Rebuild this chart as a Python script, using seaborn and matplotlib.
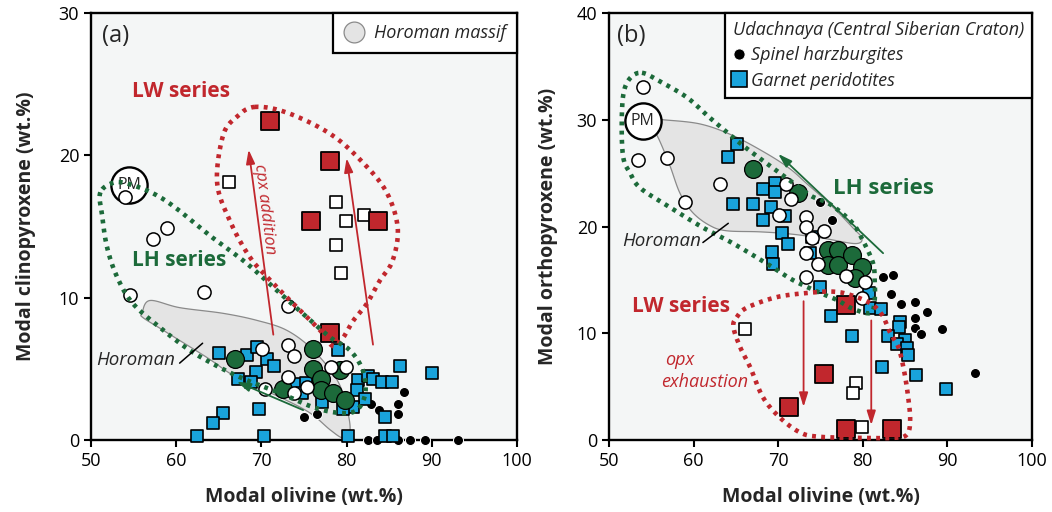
import numpy as np
import pandas as pd
import matplotlib
matplotlib.use("Agg")
import matplotlib.pyplot as plt
import seaborn as sns
from matplotlib.lines import Line2D
from matplotlib.font_manager import FontProperties

# ---------------------------------------------------------------- colours
BLUE = "#19a3db"
RED = "#c1272d"
GREEN = "#1c6a3a"
GREY_FILL = "#e4e4e4"
GREY_EDGE = "#8a8a8a"
PANEL_BG = "#f4f6f6"

# ============================================================ panel (a) data
# Modal olivine (x) vs modal clinopyroxene (y), wt.%
a_spinel_x = [75.0, 76.5, 82.9, 83.8, 86.0, 86.0, 86.7, 82.5, 83.6, 86.0, 87.4, 89.2, 93.1]
a_spinel_y = [1.6, 1.8, 2.5, 2.1, 2.5, 1.8, 3.4, 0.0, 0.0, 0.0, 0.0, 0.0, 0.0]

a_garnet_x = [65.0, 68.3, 69.5, 70.7, 71.5, 69.4, 67.3, 68.8, 69.7, 65.5, 64.3, 62.4, 70.3,
              74.1, 75.2, 74.8, 79.0, 86.3, 90.0, 81.3, 82.5, 83.1, 84.2, 85.3, 81.2, 82.2,
              80.8, 79.6, 77.1, 84.5, 84.5, 85.4, 80.2]
a_garnet_y = [6.1, 6.0, 6.5, 5.7, 5.2, 4.8, 4.3, 4.1, 2.2, 1.9, 1.2, 0.3, 0.3,
              3.9, 4.0, 3.3, 6.3, 5.2, 4.7, 4.2, 4.5, 4.3, 4.1, 4.1, 3.5, 2.9,
              2.3, 2.2, 2.7, 1.6, 0.3, 0.3, 0.3]

a_lh_filled_x = [66.9, 76.1, 76.1, 77.0, 72.5, 77.0, 78.4, 79.8, 79.2]
a_lh_filled_y = [5.7, 6.4, 5.0, 4.3, 3.6, 3.5, 3.3, 2.8, 4.9]

a_lh_open_x = [54.0, 57.3, 58.9, 54.6, 63.3, 73.1, 73.1, 73.8, 70.1, 73.1, 70.4, 73.8, 75.4, 78.2, 79.9]
a_lh_open_y = [17.1, 14.1, 14.9, 10.2, 10.4, 9.4, 6.7, 5.9, 6.4, 4.4, 3.6, 3.3, 3.7, 5.1, 5.1]

a_lw_open_x = [66.2, 78.8, 79.9, 82.0, 78.8, 79.3]
a_lw_open_y = [18.1, 16.7, 15.4, 15.8, 13.7, 11.7]

a_lw_filled_x = [71.0, 78.1, 75.8, 83.7, 78.1]
a_lw_filled_y = [22.4, 19.6, 15.4, 15.4, 7.5]

a_pm = (54.5, 17.9)

# Horoman massif field
a_horoman_x = [56.0, 56.9, 60.4, 65.5, 69.5, 73.0, 76.1, 78.9, 80.0, 80.4, 79.6, 78.1,
               75.7, 72.2, 67.1, 63.6, 58.5, 56.1]
a_horoman_y = [8.9, 9.8, 9.3, 8.9, 8.4, 7.7, 6.3, 4.2, 2.3, 0.7, 0.15, 0.7,
               1.9, 3.0, 4.4, 5.8, 7.7, 8.6]

# LW series envelope
a_lw_env_x = [69.2, 73.0, 78.1, 81.9, 84.7, 86.0, 85.4, 83.9, 82.4, 80.8, 79.6, 78.4,
              76.9, 74.2, 71.4, 68.7, 66.3, 64.8, 65.5, 67.1]
a_lw_env_y = [23.4, 23.0, 21.5, 19.5, 17.4, 14.9, 12.6, 11.2, 9.6, 8.4, 7.2, 6.6,
              7.7, 9.3, 11.0, 12.8, 15.4, 18.1, 21.4, 22.7]

# LH series envelope
a_lh_env_x = [51.1, 51.3, 51.9, 53.1, 54.9, 58.1, 61.6, 65.1, 68.3, 72.2, 76.1, 79.2,
              81.2, 82.2, 81.9, 80.4, 78.1, 75.4, 72.2, 68.3, 64.3, 60.4, 57.7, 54.9, 52.8]
a_lh_env_y = [17.4, 15.8, 13.5, 11.4, 9.6, 7.9, 6.3, 5.1, 4.2, 3.3, 2.3, 1.9,
              2.1, 3.3, 4.9, 6.3, 7.2, 8.6, 10.3, 12.4, 14.2, 16.1, 17.2, 17.9, 18.1]

# ============================================================ panel (b) data
# Modal olivine (x) vs modal orthopyroxene (y), wt.%
b_spinel_x = [74.9, 76.4, 82.4, 83.6, 83.3, 84.5, 86.2, 87.6, 86.2, 86.2, 86.9, 89.4, 93.3]
b_spinel_y = [22.3, 20.6, 15.3, 15.5, 13.7, 12.7, 12.9, 12.0, 11.4, 10.5, 9.9, 10.4, 6.3]

b_garnet_x = [65.1, 64.1, 69.6, 68.2, 69.6, 64.7, 67.0, 69.1, 70.8, 68.2, 70.4, 71.2, 69.3,
              69.4, 74.0, 73.7, 74.9, 80.7, 80.9, 82.2, 76.2, 78.7, 84.4, 84.3, 83.0, 85.0,
              84.0, 85.2, 85.3, 82.3, 86.3, 89.8]
b_garnet_y = [27.7, 26.5, 24.1, 23.5, 23.2, 22.1, 22.1, 21.8, 21.0, 20.6, 19.4, 18.4, 17.6,
              16.5, 19.0, 17.5, 14.3, 13.8, 12.4, 12.3, 11.6, 9.7, 11.1, 10.6, 9.7, 9.4,
              9.0, 8.6, 8.0, 6.8, 6.1, 4.8]

b_lh_filled_x = [67.0, 72.3, 75.9, 77.1, 75.9, 77.1, 78.7, 79.9, 79.1]
b_lh_filled_y = [25.4, 23.1, 17.8, 17.8, 16.4, 16.4, 17.3, 16.2, 15.2]

b_lh_open_x = [54.0, 53.4, 56.9, 63.1, 59.0, 70.9, 71.5, 70.1, 73.3, 73.3, 75.4, 74.0,
               73.3, 74.7, 73.3, 78.0, 80.3, 79.9]
b_lh_open_y = [33.1, 26.2, 26.4, 24.0, 22.3, 24.0, 22.6, 21.1, 20.9, 20.0, 19.6, 18.9,
               17.5, 16.5, 15.3, 15.4, 14.8, 13.3]

b_lw_open_x = [66.1, 79.2, 78.8, 79.9]
b_lw_open_y = [10.4, 5.3, 4.4, 1.2]

b_lw_filled_x = [78.0, 75.4, 71.3, 78.0, 83.5]
b_lw_filled_y = [12.6, 6.2, 3.1, 1.0, 1.0]

b_pm = (54.0, 29.9)

b_horoman_x = [54.8, 56.4, 60.8, 64.7, 68.7, 71.4, 73.4, 76.1, 78.8, 79.9, 79.1, 75.3,
               71.4, 67.8, 63.9, 61.9, 59.9, 58.4, 57.2, 56.0, 55.1]
b_horoman_y = [30.1, 30.0, 29.6, 28.5, 26.8, 25.4, 24.0, 22.1, 19.9, 18.9, 18.4, 18.9,
               19.3, 19.5, 19.6, 20.1, 21.3, 23.1, 25.7, 28.0, 29.4]

b_lh_env_x = [53.9, 56.0, 59.2, 61.9, 65.5, 67.8, 71.4, 73.8, 76.1, 78.7, 80.0, 81.2,
              81.4, 81.4, 80.9, 78.8, 77.0, 74.9, 71.7, 68.7, 64.7, 61.1, 57.2, 53.7,
              52.5, 51.7, 51.5, 51.7, 52.5]
b_lh_env_y = [34.4, 33.6, 32.1, 30.2, 27.8, 26.4, 24.3, 22.9, 22.1, 20.4, 18.7, 16.6,
              15.0, 13.1, 11.9, 12.3, 13.1, 13.8, 15.0, 16.5, 18.4, 19.9, 21.8, 23.6,
              25.0, 26.4, 29.3, 32.4, 33.9]

b_lw_env_x = [65.1, 66.3, 69.9, 73.8, 76.5, 78.5, 80.9, 82.3, 83.2, 84.2, 84.8, 85.3,
              85.6, 85.2, 83.6, 79.7, 74.9, 72.6, 70.2, 68.2, 66.7, 65.5, 64.7]
b_lw_env_y = [11.5, 12.4, 13.4, 13.8, 13.9, 13.6, 12.8, 11.7, 10.1, 8.7, 6.8, 4.4,
              1.9, 0.5, 0.2, 0.2, 0.3, 0.7, 2.1, 4.0, 6.8, 8.7, 10.6]

x_ticks = [50, 60, 70, 80, 90, 100]


def smooth_closed(xs, ys, n=14):
    """Closed Catmull-Rom spline through the given vertices."""
    pts = np.column_stack([xs, ys]).astype(float)
    P = np.vstack([pts[-1], pts, pts[0], pts[1]])
    t = np.linspace(0, 1, n, endpoint=False)[:, None]
    segs = []
    for i in range(1, len(pts) + 1):
        p0, p1, p2, p3 = P[i - 1], P[i], P[i + 1], P[i + 2]
        segs.append(0.5 * (2 * p1 + (-p0 + p2) * t
                           + (2 * p0 - 5 * p1 + 4 * p2 - p3) * t ** 2
                           + (-p0 + 3 * p1 - 3 * p2 + p3) * t ** 3))
    out = np.vstack(segs + [segs[0][:1]])
    return out[:, 0], out[:, 1]


def envelope(ax, xs, ys, color):
    sx, sy = smooth_closed(xs, ys)
    ax.plot(sx, sy, color=color, lw=3.3, linestyle=(0, (0.85, 1.15)),
            dash_capstyle="butt", zorder=7, clip_on=False)


def field(ax, xs, ys):
    sx, sy = smooth_closed(xs, ys)
    ax.fill(sx, sy, facecolor=GREY_FILL, edgecolor=GREY_EDGE, lw=0.9, zorder=1)


def arrow(ax, tail, tip, color, lw=1.3):
    ax.annotate("", xy=tip, xytext=tail, zorder=8,
                arrowprops=dict(arrowstyle="-|>,head_length=0.7,head_width=0.22",
                                color=color, lw=lw, shrinkA=0, shrinkB=0))


def points(ax, xs, ys, marker, s, face, edge, lw, z):
    df = pd.DataFrame({"x": xs, "y": ys})
    sns.scatterplot(data=df, x="x", y="y", ax=ax, marker=marker, s=s, color=face,
                    edgecolor=edge, linewidth=lw, zorder=z, clip_on=False, legend=False)


def all_points(ax, sp, gt, lhf, lho, lwo, lwf, pm):
    points(ax, *sp, "o", 52, "black", "white", 0.7, 3)
    points(ax, *gt, "s", 85, BLUE, "black", 1.2, 4)
    points(ax, *lhf, "o", 165, GREEN, "black", 0.9, 5)
    points(ax, [pm[0]], [pm[1]], "o", 680, "white", "black", 1.7, 5.5)
    ax.text(pm[0], pm[1], "PM", ha="center", va="center", fontsize=11.5, zorder=5.6)
    points(ax, *lho, "o", 90, "white", "black", 1.1, 6)
    points(ax, *lwo, "s", 68, "white", "black", 1.2, 6)
    points(ax, *lwf, "s", 150, RED, "black", 1.3, 6)


sns.set_theme(style="ticks")
plt.rcParams["font.family"] = ["Open Sans", "DejaVu Sans"]
plt.rcParams.update({
    "axes.linewidth": 1.7, "axes.edgecolor": "black",
    "xtick.major.width": 1.5, "ytick.major.width": 1.5,
    "xtick.major.size": 5, "ytick.major.size": 5,
    "xtick.labelsize": 13, "ytick.labelsize": 13,
    "xtick.color": "black", "ytick.color": "black",
})

W, H = 1052, 512
fig = plt.figure(figsize=(W / 100, H / 100), dpi=100)
ax_a = fig.add_axes([91 / W, 1 - 440 / H, (517 - 91) / W, (440 - 13) / H])
ax_b = fig.add_axes([609 / W, 1 - 440 / H, (1032 - 609) / W, (440 - 13) / H])

label_font = dict(fontsize=14, fontweight="bold")

# ------------------------------------------------------------------ panel (a)
ax = ax_a
ax.set_facecolor(PANEL_BG)
field(ax, a_horoman_x, a_horoman_y)
all_points(ax, (a_spinel_x, a_spinel_y), (a_garnet_x, a_garnet_y),
           (a_lh_filled_x, a_lh_filled_y), (a_lh_open_x, a_lh_open_y),
           (a_lw_open_x, a_lw_open_y), (a_lw_filled_x, a_lw_filled_y), a_pm)
envelope(ax, a_lw_env_x, a_lw_env_y, RED)
envelope(ax, a_lh_env_x, a_lh_env_y, GREEN)
arrow(ax, (71.4, 7.4), (68.5, 20.4), RED)
arrow(ax, (83.1, 6.7), (80.0, 19.8), RED)
arrow(ax, (74.9, 2.1), (67.1, 4.1), GREEN)
ax.plot([60.4, 63.1], [5.4, 6.8], color="black", lw=1.1, zorder=8)

ax.text(0.026, 0.975, "(a)", transform=ax.transAxes, fontsize=17, va="top", ha="left")
ax.text(60.6, 24.5, "LW series", color=RED, fontsize=15, fontweight="bold",
        ha="center", va="center", zorder=9)
ax.text(60.3, 12.6, "LH series", color=GREEN, fontsize=15, fontweight="bold",
        ha="center", va="center", zorder=9)
ax.text(70.4, 16.2, "cpx addition", color=RED, fontsize=12, style="italic",
        rotation=-83, ha="center", va="center", zorder=9)
ax.text(59.9, 5.6, "Horoman", fontsize=13.5, style="italic", ha="right", va="center", zorder=9)

ax.set_xlim(50, 100)
ax.set_ylim(0, 30)
ax.set_xticks(x_ticks)
ax.set_yticks([0, 10, 20, 30])
ax.set_xlabel("Modal olivine (wt.%)", **label_font)
ax.set_ylabel("Modal clinopyroxene (wt.%)", **label_font)
ax.yaxis.set_label_coords(-0.128, 0.5)
ax.xaxis.set_label_coords(0.5, -0.11)

leg_a = ax.legend(
    handles=[Line2D([], [], marker="o", linestyle="None", markersize=15,
                    markerfacecolor=GREY_FILL, markeredgecolor=GREY_EDGE, markeredgewidth=0.9)],
    labels=["Horoman massif"], loc="upper right", borderaxespad=0, frameon=True,
    fancybox=False, edgecolor="black", framealpha=1, facecolor="white",
    prop=FontProperties(style="italic", size=13), handlelength=1.2, handletextpad=0.5,
    borderpad=0.6)
leg_a.get_frame().set_linewidth(1.6)
leg_a.set_zorder(10)

# ------------------------------------------------------------------ panel (b)
ax = ax_b
ax.set_facecolor(PANEL_BG)
field(ax, b_horoman_x, b_horoman_y)
all_points(ax, (b_spinel_x, b_spinel_y), (b_garnet_x, b_garnet_y),
           (b_lh_filled_x, b_lh_filled_y), (b_lh_open_x, b_lh_open_y),
           (b_lw_open_x, b_lw_open_y), (b_lw_filled_x, b_lw_filled_y), b_pm)
envelope(ax, b_lh_env_x, b_lh_env_y, GREEN)
envelope(ax, b_lw_env_x, b_lw_env_y, RED)
arrow(ax, (73.0, 13.0), (73.0, 3.1), RED)
arrow(ax, (81.0, 11.2), (81.0, 1.4), RED)
arrow(ax, (82.4, 17.5), (70.0, 26.8), GREEN)
ax.plot([61.1, 64.1], [18.5, 20.3], color="black", lw=1.1, zorder=8)

ax.text(0.019, 0.975, "(b)", transform=ax.transAxes, fontsize=17, va="top", ha="left")
ax.text(82.4, 23.6, "LH series", color=GREEN, fontsize=16, fontweight="bold",
        ha="center", va="center", zorder=9)
ax.text(58.5, 12.5, "LW series", color=RED, fontsize=15, fontweight="bold",
        ha="center", va="center", zorder=9)
ax.text(58.3, 7.5, "opx", color=RED, fontsize=13, style="italic",
        ha="center", va="center", zorder=9)
ax.text(61.3, 5.4, "exhaustion", color=RED, fontsize=13, style="italic",
        ha="center", va="center", zorder=9)
ax.text(60.9, 18.6, "Horoman", fontsize=13.5, style="italic", ha="right", va="center", zorder=9)

ax.set_xlim(50, 100)
ax.set_ylim(0, 40)
ax.set_xticks(x_ticks)
ax.set_yticks([0, 10, 20, 30, 40])
ax.set_xlabel("Modal olivine (wt.%)", **label_font)
ax.set_ylabel("Modal orthopyroxene (wt.%)", **label_font)
ax.yaxis.set_label_coords(-0.12, 0.5)
ax.xaxis.set_label_coords(0.5, -0.11)

leg_b = ax.legend(
    handles=[Line2D([], [], marker="o", linestyle="None", markersize=8,
                    markerfacecolor="black", markeredgecolor="white", markeredgewidth=0.6),
             Line2D([], [], marker="s", linestyle="None", markersize=12,
                    markerfacecolor=BLUE, markeredgecolor="black", markeredgewidth=1.2)],
    labels=["Spinel harzburgites", "Garnet peridotites"],
    title="Udachnaya (Central Siberian Craton)",
    title_fontproperties=FontProperties(style="italic", size=13),
    prop=FontProperties(style="italic", size=13),
    loc="upper right", borderaxespad=0, frameon=True, fancybox=False,
    edgecolor="black", framealpha=1, facecolor="white", alignment="left",
    handlelength=0.7, handletextpad=0.3, labelspacing=0.4, borderpad=0.45)
leg_b.get_frame().set_linewidth(1.6)
leg_b.set_zorder(10)

fig.savefig("out.png", dpi=100, facecolor="white")
